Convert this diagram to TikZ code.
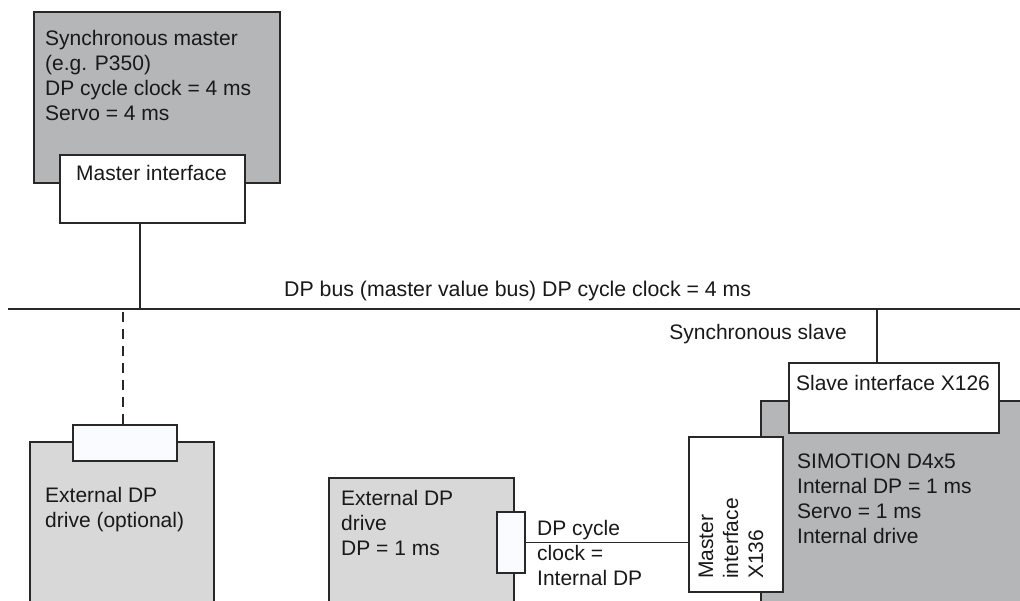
\documentclass[tikz,border=0pt]{standalone}
\usepackage{fontspec}
\setmainfont{Liberation Sans}
\definecolor{darkbox}{RGB}{181,182,184}
\definecolor{lightbox}{RGB}{216,216,216}
\definecolor{portfill}{RGB}{250,251,255}
\definecolor{edge}{RGB}{40,40,40}
\begin{document}
\begin{tikzpicture}[x=1pt,y=-1pt,
  every node/.style={font=\fontsize{21}{25}\selectfont, text=black!90},
  box/.style={draw=edge, line width=1.5pt, inner sep=0pt, anchor=north west},
  dbox/.style={box, fill=darkbox},
  lbox/.style={box, fill=lightbox},
  port/.style={box, fill=portfill},
  wport/.style={box, fill=white},
  txt/.style={inner sep=0pt, align=left, anchor=north west},
  wire/.style={draw=edge, line width=1.5pt}]
\clip (0,0) rectangle (1020,600);
\fill[white] (0,0) rectangle (1020,600);

% synchronous master
\node[dbox, minimum width=246pt, minimum height=171pt] (sm) at (33,11) {};
\node[txt] (smt) at (45,30) {Synchronous master\\(e.g. P350)\\DP cycle clock = 4 ms\\Servo = 4 ms};
\node[wport, minimum width=185pt, minimum height=68pt] (mi) at (59,154) {};
\node[inner sep=0pt, anchor=north] (mit) at (151.5,165) {Master interface};

% bus
\coordinate (busL) at (8,309);
\coordinate (busR) at (1025,309);
\coordinate (busM) at (140,309);
\coordinate (busS) at (877,309);
\coordinate (busD) at (123,309);
\draw[wire, line width=1.8pt] (busL) -- (busR);
\draw[wire, line width=2.2pt] (mi.south -| busM) -- (busM);
\node[inner sep=0pt, anchor=base west, font=\fontsize{21.3}{25}\selectfont] (bust) at (284,296) {DP bus (master value bus) DP cycle clock = 4 ms};
\node[inner sep=0pt, anchor=base east] (sst) at (847,339) {Synchronous slave};

% external DP drive (optional)
\node[lbox, minimum width=184pt, minimum height=200pt] (ed1) at (29,441) {};
\node[port, minimum width=104pt, minimum height=36pt] (p1) at (72,424) {};
\draw[wire, line width=1.2pt, dash pattern=on 10pt off 7pt] (p1.north -| busD) -- (busD);
\node[txt] (ed1t) at (45,487) {External DP\\drive (optional)};

% external DP drive
\node[lbox, minimum width=185pt, minimum height=150pt] (ed2) at (328,477) {};
\node[txt] (ed2t) at (341,490) {External DP\\drive\\DP = 1 ms};
\node[port, minimum width=28pt, minimum height=61pt] (p2) at (496,511) {};
\node[txt] (dpt) at (537,520) {DP cycle\\clock =\\Internal DP};

% SIMOTION
\node[dbox, minimum width=280pt, minimum height=220pt] (sim) at (760,400) {};
\node[wport, minimum width=210pt, minimum height=70pt] (si) at (788,362) {};
\node[inner sep=0pt, anchor=north] (sit) at (893,375) {Slave interface X126};
\draw[wire] (busS) -- (busS |- si.north);
\node[txt] (simt) at (797,454) {SIMOTION D4x5\\Internal DP = 1 ms\\Servo = 1 ms\\Internal drive};
\node[wport, minimum width=94pt, minimum height=155pt] (mx) at (688,436) {};
\node[inner sep=0pt, align=left, rotate=90, anchor=west] (mxt) at (731,579) {Master\\interface\\X136};
\draw[wire] (p2.east) -- (p2.east -| mx.west);
\end{tikzpicture}
\end{document}
